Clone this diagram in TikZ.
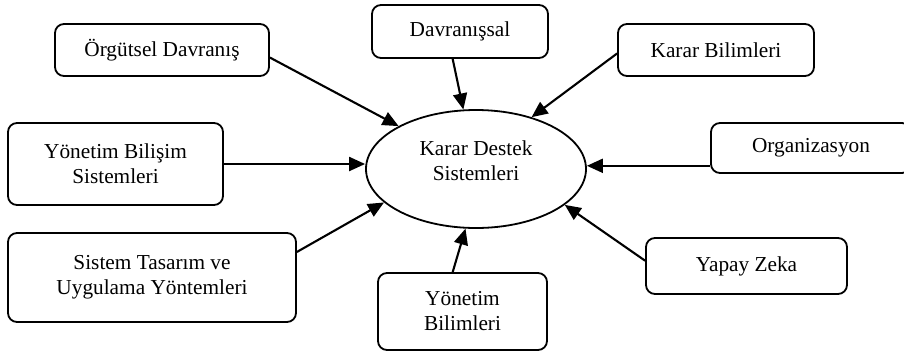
\documentclass[tikz,border=0pt]{standalone}
\usepackage{fontspec}
\setmainfont{Liberation Serif}
\usepackage{tikz}
\usetikzlibrary{arrows.meta}
\usetikzlibrary{shapes.geometric}

\tikzset{
    kutu/.style={draw,line width=1.8pt,rounded corners=9pt,align=center,inner sep=0pt},
    merkez/.style={draw,ellipse,line width=1.8pt,inner sep=0pt},
    ok/.style={line width=2.1pt,-{Triangle[length=16pt,width=14pt]}}
}

\begin{document}
\begin{tikzpicture}[x=1pt,y=-1pt,font=\fontsize{21.3}{25}\selectfont]
            \useasboundingbox (0,0) rectangle (904,354);
            \clip (0,0) rectangle (904,354);

            \node[merkez,minimum width=220pt,minimum height=118pt] (kds) at (476,169) {};
            \node[align=center] (kdsyazi) at (476,161) {Karar Destek\\Sistemleri};

            \node[kutu,minimum width=214pt,minimum height=52pt] (orgdav) at (162,50) {Örgütsel Davranış};
            \node[kutu,minimum width=176pt,minimum height=53pt] (dav) at (460,31.5) {Davranışsal};
            \node[kutu,minimum width=196pt,minimum height=52pt] (kb) at (716,50) {Karar Bilimleri};
            \node[kutu,minimum width=215pt,minimum height=82pt] (ybs) at (115.5,164) {Yönetim Bilişim\\Sistemleri};
            \node[kutu,minimum width=200pt,minimum height=50pt] (orgz) at (811,148) {Organizasyon};
            \node[kutu,minimum width=288pt,minimum height=89pt] (sty) at (152,277.5) {Sistem Tasarım ve\\Uygulama Yöntemleri};
            \node[kutu,minimum width=169pt,minimum height=77pt] (yb) at (462.5,311.5) {Yönetim\\Bilimleri};
            \node[kutu,minimum width=201pt,minimum height=56pt] (yz) at (746.5,266) {Yapay Zeka};

            \draw[ok] (orgdav.-4) -- (kds.151);
            \draw[ok] (dav.-105) -- (kds.102);
            \draw[ok] (kb.182) -- (kds.43);
            \draw[ok] (ybs.east) -- (ybs.east -| kds.west);
            \draw[ok] (orgz.190) -- (orgz.190 -| kds.east);
            \draw[ok] (sty.10) -- (kds.200);
            \draw[ok] (yb.104) -- (kds.260);
            \draw[ok] (yz.177) -- (kds.338);
        \end{tikzpicture}
\end{document}
